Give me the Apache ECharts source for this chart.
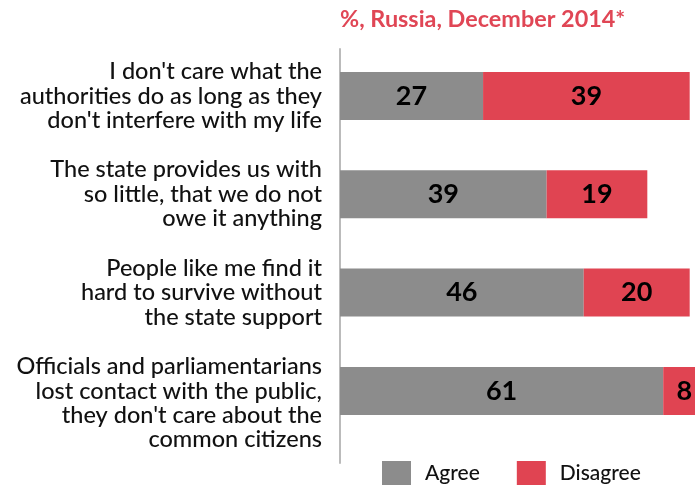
<!DOCTYPE html>
<html>
<head>
<meta charset="utf-8">
<script src="https://cdn.jsdelivr.net/npm/echarts@6/dist/echarts.min.js"></script>
<style>
html,body{margin:0;padding:0;background:#fff;}
#c{width:695px;height:485px;}
</style>
</head>
<body>
<div id="c"></div>
<script>
var categories = [
  "I don't care what the\nauthorities do as long as they\ndon't interfere with my life",
  "The state provides us with\nso little, that we do not\nowe it anything",
  "People like me find it\nhard to survive without\nthe state support",
  "Officials and parliamentarians\nlost contact with the public,\nthey don't care about the\ncommon citizens"
];
var agree = [27, 39, 46, 61];
var disagree = [39, 19, 20, 8];
var seriesNames = ["Agree", "Disagree"];
var titleText = "%, Russia, December 2014*";

var FONT = "Lato";
var chart = echarts.init(document.getElementById('c'), null, {renderer: 'canvas'});

var option = {
  animation: false,
  backgroundColor: '#ffffff',
  title: {
    text: titleText,
    left: 340, top: 8, padding: 0,
    textStyle: {color: '#e04655', fontFamily: FONT, fontWeight: 'bold', fontSize: 23.4}
  },
  legend: {
    data: seriesNames,
    left: 382, top: 461, padding: 0,
    itemWidth: 29, itemHeight: 24,
    itemGap: 37,
    icon: 'rect',
    textStyle: {color: '#111', fontFamily: FONT, fontWeight: 500, fontSize: 21, padding: [0, 0, 0, 9]}
  },
  grid: [
    {left: 340, right: 0, top: 46.8, height: 393.3, containLabel: false},
    {left: 340, right: 0, top: 49, bottom: 22, containLabel: false}
  ],
  xAxis: [
    {type: 'value', gridIndex: 0, min: 0, max: 67, show: false},
    {type: 'value', gridIndex: 1, min: 0, max: 1, show: false}
  ],
  yAxis: [
    {
      type: 'category', gridIndex: 0, inverse: true, data: categories,
      axisLine: {show: false}, axisTick: {show: false}, splitLine: {show: false},
      axisLabel: {
        margin: 18,
        align: 'right',
        color: '#111', fontFamily: FONT, fontWeight: 500, fontSize: 23.5, lineHeight: 24.4,
        formatter: function (val) {
          // 4-line label sits lower in the original layout
          return val.split('\n').length > 3 ? '\n' + val : val;
        }
      }
    },
    {
      type: 'value', gridIndex: 1, min: 0, max: 1,
      axisLine: {show: true, lineStyle: {color: '#b4b4b4', width: 1.8}},
      axisTick: {show: false}, axisLabel: {show: false}, splitLine: {show: false}
    }
  ],
  series: [
    {
      name: seriesNames[0], type: 'bar', stack: 'all', data: agree,
      xAxisIndex: 0, yAxisIndex: 0, barWidth: 48, clip: false,
      itemStyle: {color: '#8c8c8c'},
      label: {show: true, position: 'inside', color: '#000', fontFamily: FONT, fontWeight: 'bold', fontSize: 27}
    },
    {
      name: seriesNames[1], type: 'bar', stack: 'all', data: disagree,
      xAxisIndex: 0, yAxisIndex: 0, barWidth: 48, clip: false,
      itemStyle: {color: '#e04452'},
      label: {show: true, position: 'inside', color: '#000', fontFamily: FONT, fontWeight: 'bold', fontSize: 27}
    }
  ]
};
chart.setOption(option);
</script>
</body>
</html>
